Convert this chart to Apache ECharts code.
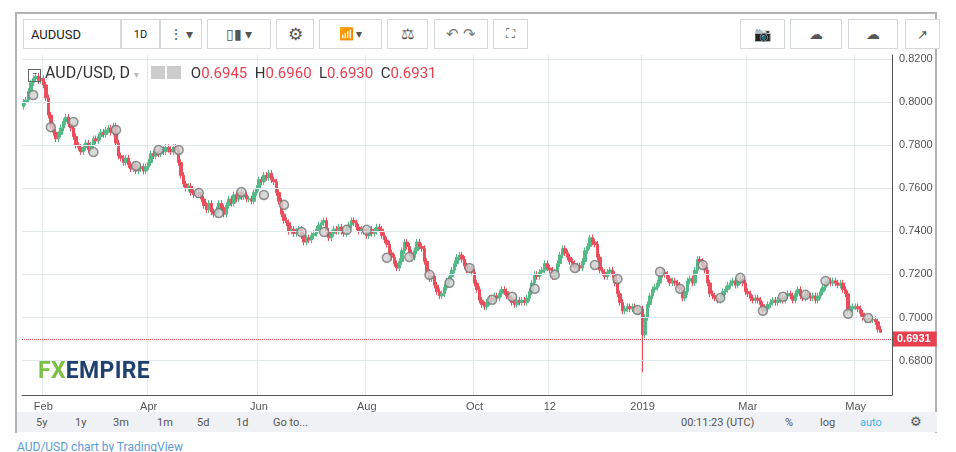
<!DOCTYPE html>
<html><head><meta charset="utf-8">
<script src="https://cdn.jsdelivr.net/npm/echarts@6/dist/echarts.min.js"></script>
<style>
body{margin:0;width:956px;height:452px;background:#fff;font-family:Roboto,"Noto Sans",Arial,sans-serif;position:relative;overflow:hidden}
#frame{position:absolute;left:15px;top:12px;width:922px;height:421px;border:2px solid #b3b3b3;border-bottom:none;box-sizing:border-box;background:#fff}
.btn{position:absolute;top:19px;height:30px;border:1px solid #d5d8dd;box-sizing:border-box;background:#fff;color:#555;font-size:12px;display:flex;align-items:center;justify-content:center}
#bottom{position:absolute;left:17px;top:412px;width:920px;height:20px;background:#f0f1f4;font-size:11px;color:#555}
#bottom span{position:absolute;top:4px}
#chart{position:absolute;left:0;top:0;width:956px;height:412px}
</style></head><body>
<div id="frame"></div>
<div class="btn" style="left:23px;width:98px;justify-content:flex-start;padding-left:7px;font-size:13px;color:#222">AUDUSD</div>
<div class="btn" style="left:121px;width:39px;font-size:11px;color:#222">1D</div>
<div class="btn" style="left:160px;width:42px;font-size:14px">⋮ ▾</div>
<div class="btn" style="left:207px;width:64px;font-size:14px">▯▮ ▾</div>
<div class="btn" style="left:276px;width:38px;font-size:17px">⚙</div>
<div class="btn" style="left:319px;width:63px;font-size:12px">📶 ▾</div>
<div class="btn" style="left:387px;width:41px;font-size:15px">⚖</div>
<div class="btn" style="left:434px;width:54px;font-size:15px;color:#777">↶ ↷</div>
<div class="btn" style="left:493px;width:35px;font-size:13px">⛶</div>
<div class="btn" style="left:740px;width:45px;font-size:14px">📷</div>
<div class="btn" style="left:790px;width:52px;font-size:14px">☁</div>
<div class="btn" style="left:848px;width:50px;font-size:14px">☁</div>
<div class="btn" style="left:905px;width:35px;font-size:13px">↗</div>
<div id="chart"></div>
<div id="bottom">
<span style="left:19px">5y</span><span style="left:58px">1y</span><span style="left:96px">3m</span><span style="left:140px">1m</span><span style="left:180px">5d</span><span style="left:219px">1d</span><span style="left:256px">Go to...</span>
<span style="left:664px">00:11:23 (UTC)</span><span style="left:768px">%</span><span style="left:803px">log</span><span style="left:843px;color:#3bb3e4">auto</span><span style="left:893px;font-size:13px;top:2px">⚙</span>
</div>
<div style="position:absolute;left:38px;top:357px;font-size:23px;font-weight:bold;letter-spacing:0.3px"><span style="color:#7cc242">FX</span><span style="color:#1f3f6e">EMPIRE</span></div>
<div style="position:absolute;left:17px;top:440px;font-size:12px;color:#5b9bd5">AUD/USD chart by TradingView</div>
<div style="position:absolute;left:28px;top:63px;font-size:16px;color:#333;white-space:nowrap">
<span style="display:inline-block;width:11px;height:11px;border:1px solid #666;font-size:9px;line-height:9px;text-align:center;vertical-align:1px">−</span>
AUD/USD, D <span style="color:#bbb;font-size:10px">▾</span>
<span style="display:inline-block;width:14px;height:13px;background:#ccc;vertical-align:-1px;margin-left:8px"></span><span style="display:inline-block;width:14px;height:13px;background:#ccc;vertical-align:-1px;margin-left:2px"></span>
<span style="font-size:15px;margin-left:6px">O<span style="color:#e8404f">0.6945</span>&nbsp; H<span style="color:#e8404f">0.6960</span>&nbsp; L<span style="color:#e8404f">0.6930</span>&nbsp; C<span style="color:#e8404f">0.6931</span></span>
</div>
<script>
const closes = [
0.800,0.801,0.805,0.809,0.811,0.812,0.810,0.811,0.808,0.802,
0.794,0.789,0.786,0.783,0.785,0.788,0.791,0.793,0.790,0.788,
0.784,0.780,0.779,0.777,0.779,0.781,0.778,0.780,0.783,0.782,
0.784,0.786,0.785,0.787,0.788,0.786,0.789,0.781,0.775,0.774,
0.772,0.774,0.771,0.769,0.771,0.768,0.769,0.770,0.768,0.770,
0.772,0.776,0.775,0.777,0.776,0.778,0.777,0.779,0.778,0.777,
0.779,0.778,0.772,0.766,0.762,0.760,0.761,0.758,0.757,0.758,
0.757,0.755,0.752,0.750,0.753,0.749,0.748,0.750,0.753,0.751,
0.748,0.752,0.755,0.753,0.757,0.755,0.758,0.756,0.757,0.755,
0.755,0.754,0.758,0.760,0.764,0.763,0.766,0.765,0.767,0.764,
0.763,0.758,0.754,0.748,0.745,0.744,0.740,0.741,0.739,0.740,
0.741,0.738,0.735,0.737,0.736,0.738,0.739,0.741,0.743,0.744,
0.745,0.740,0.737,0.739,0.741,0.740,0.742,0.740,0.739,0.741,
0.743,0.745,0.744,0.742,0.740,0.741,0.740,0.738,0.741,0.739,
0.740,0.742,0.741,0.738,0.736,0.734,0.730,0.728,0.725,0.723,
0.726,0.731,0.735,0.733,0.730,0.728,0.731,0.735,0.733,0.732,
0.726,0.721,0.718,0.719,0.715,0.712,0.710,0.711,0.714,0.717,
0.719,0.722,0.725,0.728,0.729,0.727,0.724,0.722,0.723,0.721,
0.716,0.713,0.708,0.706,0.705,0.707,0.709,0.708,0.710,0.709,
0.711,0.713,0.712,0.710,0.709,0.707,0.706,0.708,0.707,0.708,
0.707,0.709,0.712,0.716,0.720,0.719,0.721,0.722,0.725,0.723,
0.722,0.719,0.721,0.725,0.729,0.732,0.730,0.728,0.726,0.725,
0.723,0.724,0.723,0.726,0.731,0.733,0.737,0.735,0.734,0.728,
0.722,0.721,0.719,0.721,0.722,0.720,0.716,0.711,0.707,0.703,
0.704,0.705,0.704,0.705,0.704,0.703,0.704,0.692,0.700,0.706,
0.710,0.713,0.714,0.716,0.720,0.721,0.720,0.718,0.716,0.717,
0.716,0.715,0.713,0.709,0.712,0.717,0.718,0.716,0.722,0.727,
0.726,0.724,0.722,0.716,0.711,0.710,0.709,0.708,0.709,0.712,
0.713,0.715,0.716,0.717,0.715,0.717,0.718,0.716,0.712,0.711,
0.709,0.708,0.709,0.708,0.706,0.703,0.704,0.706,0.707,0.708,
0.707,0.708,0.709,0.708,0.710,0.711,0.710,0.708,0.711,0.713,
0.710,0.709,0.711,0.710,0.709,0.710,0.708,0.710,0.712,0.714,
0.716,0.717,0.716,0.717,0.716,0.715,0.716,0.713,0.711,0.703,
0.704,0.705,0.705,0.704,0.702,0.700,0.699,0.700,0.699,0.699,
0.698,0.6945,0.6931];
const firstOpen = 0.798;
const lowOverrides = {247: 0.6745, 342: 0.6930};
const highOverrides = {342: 0.6960};
const eventPoints = [[4,.8033],[11,.7884],[20,.7908],[28,.7768],[37,.7871],[45,.7704],[54,.7778],[62,.7778],[70,.7578],[78,.7485],[87,.7583],[96,.7569],[104,.7523],[111,.7397],[120,.7397],[129,.7407],[137,.7407],[145,.7277],[154,.7281],[162,.7198],[170,.7161],[178,.7230],[187,.7082],[195,.7096],[204,.7133],[212,.7198],[220,.7230],[228,.7244],[237,.7179],[245,.7035],[254,.7212],[262,.7133],[271,.7244],[278,.7091],[286,.7184],[295,.7031],[303,.7096],[312,.7105],[320,.7170],[329,.7017],[337,.6998]];
const yTicks = [0.68,0.70,0.72,0.74,0.76,0.78,0.80,0.82];
const tickDates = ['2018-02-01','2018-04-02','2018-06-01','2018-08-01','2018-10-01','2018-11-12','2019-01-02','2019-03-01','2019-05-01'];
const tickLabels = ['Feb','Apr','Jun','Aug','Oct','12','2019','Mar','May'];

const dates=[]; let d=new Date(Date.UTC(2018,0,22));
while(dates.length<347){const w=d.getUTCDay(); if(w!==0&&w!==6) dates.push(new Date(d)); d=new Date(d.getTime()+86400000);}
const cats=dates.map(x=>x.toISOString().slice(0,10));
const labelAt={}; tickDates.forEach((t,k)=>{const i=cats.indexOf(t); if(i>=0) labelAt[i]=tickLabels[k];});
const W=0.0015;
const ohlc=closes.map((c,i)=>{const o=i?closes[i-1]:firstOpen;
  const h=highOverrides[i]??Math.max(o,c)+W, l=lowOverrides[i]??Math.min(o,c)-W; return [o,c,l,h];});
const chart=echarts.init(document.getElementById('chart'));
const isLab=(i)=>labelAt[i]!==undefined;
chart.setOption({
  animation:false,
  grid:{left:22,right:64,top:55,bottom:17},
  xAxis:{type:'category',data:cats,boundaryGap:true,
    axisLine:{lineStyle:{color:'#555'}},axisTick:{show:false},
    axisLabel:{interval:(i)=>isLab(i),formatter:(v,i)=>labelAt[i]||'',color:'#555',fontSize:11,margin:6},
    splitLine:{show:true,interval:(i)=>isLab(i),lineStyle:{color:'#e1e8ee'}}},
  yAxis:{type:'value',position:'right',min:0.664,max:0.8219,
    axisLine:{show:true,lineStyle:{color:'#555'}},axisLabel:{show:false},axisTick:{show:false},splitLine:{show:false}},
  series:[
    {type:'candlestick',data:ohlc,barWidth:3,
     itemStyle:{color:'#53b987',color0:'#eb4d5c',borderColor:'#53b987',borderColor0:'#eb4d5c'},
     markLine:{silent:true,symbol:'none',
       data:[...yTicks.map(v=>({yAxis:v,lineStyle:{color:'#e1e8ee',type:'solid',width:1},
            label:{formatter:v.toFixed(4),position:'end',color:'#555',fontSize:11,distance:7}})),
         {yAxis:0.6931,lineStyle:{color:'#e8404f',type:'dotted',width:1},
          label:{formatter:'0.6931',position:'end',color:'#fff',backgroundColor:'#e8404f',fontWeight:'bold',fontSize:11,padding:[2,6,2,4],distance:1}}]}},
    {type:'scatter',data:eventPoints,symbolSize:9,z:5,
     itemStyle:{color:'#cfcfcf',borderColor:'#777',borderWidth:1.5}}
  ]
});
</script>
</body></html>
